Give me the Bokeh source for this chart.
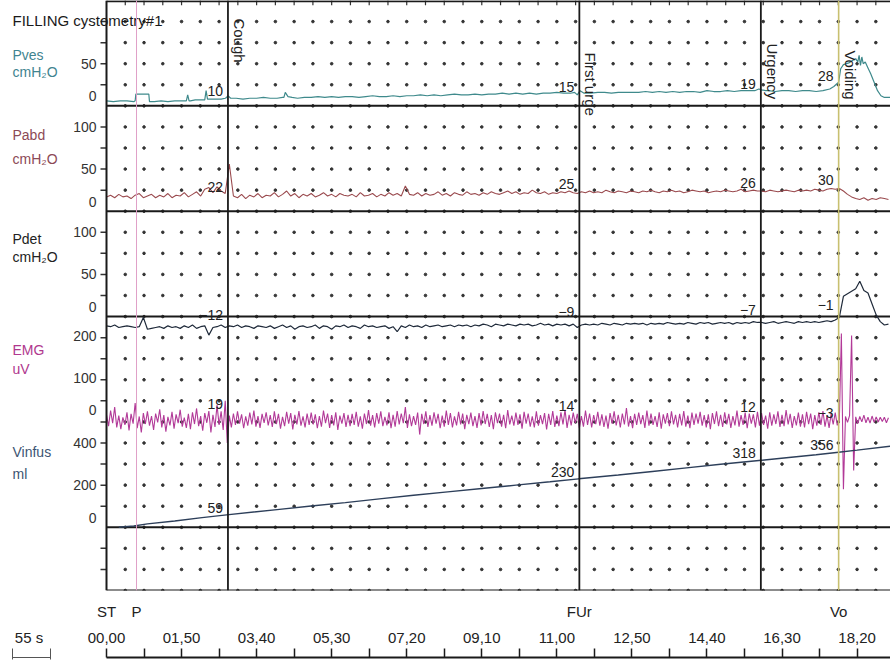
import numpy as np
from bokeh.plotting import figure
from bokeh.models import Range1d, LinearAxis, FixedTicker, Span
from bokeh.embed import file_html
from bokeh.resources import INLINE
from bokeh.core.properties import value

FONT = "Liberation Sans"

# ---------------- data ----------------
# time in seconds, values in channel units
pves_pts = [(0,6),(10,5),(20,6),(30,6),(40,5),(42,6),(43,14),(55,14),(62,14),(63,5),(70,5),(80,6),(90,5),
            (100,6),(110,6),(117,6),(119,13),(121,6),(123,6),(130,7),(138,7),(144,7),(146,18),(148,8),(152,8),
            (160,8),(168,8),(174,9),(176,10),(178,12),(182,9),(190,9),(200,8),(210,9),(220,9),(230,10),(240,9),
            (250,9),(258,10),(260,10),(262,16),(266,11),(272,10),(280,9),(290,10),(300,10),(310,11),(320,10),
            (330,11),(340,10),(350,11),(360,11),(370,10),(380,11),(390,12),(400,11),(410,11),(420,12),(430,11),
            (440,12),(450,12),(460,13),(470,12),(480,13),(490,12),(500,13),(510,14),(520,13),(530,13),(540,14),
            (550,13),(560,14),(570,14),(580,15),(590,14),(600,15),(610,14),(620,15),(630,14),(640,15),(650,15),
            (660,16),(670,15),(680,15),(686,16),(690,13),(694,18),(700,15),(710,15),(720,16),(730,16),(740,15),
            (750,16),(760,16),(770,16),(780,16),(790,17),(800,16),(810,17),(820,16),(830,17),(840,16),(850,17),
            (860,17),(870,16),(880,18),(890,17),(900,17),(910,18),(920,17),(930,18),(940,18),(950,18),(956,20),
            (960,19),(966,18),(970,18),(980,17),(990,18),(1000,18),(1010,17),(1020,18),(1030,18),(1040,17),
            (1050,18),(1060,20),(1066,23),(1070,26),(1073,28),(1076,44),(1080,49),(1088,51),(1094,54),(1098,56),
            (1101,52),(1103,60),(1105,48),(1107,58),(1109,50),(1112,52),(1116,45),(1120,38),(1125,28),(1130,18),
            (1135,12),(1140,10),(1149,10)]

pabd_step = 6
pabd_vals = [17,19,16,20,17,18,15,19,21,16, 18,20,16,19,17,21,16,19,18,22,
             17,20,23,18,26,28,22,29,24,21, 56,18,16,20,15,19,17,21,16,19,
             18,22,17,20,24,18,21,16,20,18, 21,17,19,22,18,20,17,21,19,18,
             20,17,22,18,19,21,17,20,18,22, 19,21,18,30,20,19,22,18,21,19,
             20,23,19,21,18,22,20,19,23,20, 21,19,22,20,23,21,20,22,24,21,
             23,20,22,21,25,22,21,23,20,22, 21,23,22,24,22,21,23,22,24,22,
             23,22,25,23,22,24,23,22,24,23, 22,24,23,25,23,22,24,23,25,23,
             24,22,23,25,24,23,24,22,23,24, 23,25,24,23,24,26,23,24,25,24,
             24,23,25,24,23,24,25,24,23,25, 24,25,24,26,25,24,26,27,26,27,
             24,20,17,15,14,16,13,15,14,16, 15,14]

pdet_step = 6
pdet_vals = [-11,-12,-10,-13,-12,-11,-12,-13,-12,-1, -15,-14,-13,-12,-14,-11,-13,-12,-14,-11,
             -13,-10,-14,-12,-11,-22,-13,-12,-10,-13, -11,-12,-10,-13,-11,-12,-14,-11,-12,-13,
             -11,-14,-12,-10,-13,-11,-15,-12,-11,-13, -12,-10,-14,-11,-12,-15,-11,-12,-10,-13,
             -11,-12,-14,-10,-12,-11,-13,-12,-11,-14, -12,-18,-11,-13,-10,-12,-11,-13,-10,-12,
             -11,-10,-12,-11,-10,-12,-10,-11,-10,-12, -10,-11,-9,-10,-12,-9,-10,-11,-9,-10,
             -11,-9,-10,-9,-11,-10,-8,-10,-9,-11, -9,-10,-9,-11,-9,-13,-10,-9,-10,-9,
             -10,-8,-9,-10,-8,-9,-10,-8,-9,-8, -9,-8,-10,-8,-9,-8,-9,-7,-8,-9,
             -8,-9,-7,-8,-9,-7,-8,-7,-9,-8, -7,-8,-7,-9,-7,-8,-7,-8,-6,-7,
             -7,-8,-7,-6,-8,-7,-6,-7,-8,-6, -7,-6,-7,-6,-7,-6,-5,-6,-4,-1,
             24,27,30,33,42,31,28,15,2,-6, -10,-9]

emg_step = 3
emg_vals = [12,-15,22,-8,30,-18,10,-22,6,-12,18,-25,14,-9,40,-20,8,-30,16,-10,
            20,-14,9,-24,15,-6,25,-18,11,-28,7,-13,19,-21,13,-8,24,-16,5,-19,
            14,-22,18,-10,27,-15,9,-26,16,-7,21,-30,12,-17,35,-12,20,-24,45,-55,
            10,-18,15,-12,20,-9,13,-20,8,-14,17,-11,22,-16,9,-19,14,-7,18,-13,
            11,-17,20,-10,14,-21,7,-15,19,-9,16,-23,12,-11,21,-14,8,-18,15,-12,
            17,-11,13,-20,9,-16,22,-8,15,-19,11,-13,18,-24,10,-9,16,-17,12,-15,
            14,-12,19,-16,8,-21,15,-10,23,-14,11,-18,16,-9,20,-15,7,-13,18,-20,
            12,-16,21,-11,15,-8,30,-19,13,-15,9,-12,17,-35,14,-10,20,-17,11,-14,
            18,-9,14,-20,10,-16,22,-12,16,-18,8,-13,19,-11,15,-22,12,-10,17,-15,
            9,-19,16,-13,21,-10,14,-17,11,-22,18,-8,15,-16,12,-20,23,-11,10,-14,
            17,-12,13,-21,19,-9,15,-16,8,-18,20,-14,11,-10,16,-23,14,-12,21,-17,
            10,-15,18,-11,24,-19,12,-13,17,-8,14,-20,9,-16,22,-12,15,-18,11,-10,
            19,-14,13,-17,10,-21,16,-9,20,-13,12,-18,15,-11,28,-16,9,-20,14,-12,
            17,-10,11,-19,22,-14,15,-12,9,-17,18,-21,13,-9,16,-15,20,-11,12,-18,
            14,-13,21,-16,10,-20,17,-12,15,-9,19,-14,11,-18,13,-22,16,-10,20,-15,
            12,-17,18,-11,14,-19,9,-13,22,-16,11,-12,17,-20,15,-9,13,-18,19,-14,
            16,-12,10,-21,18,-14,13,-10,20,-17,12,-15,23,-11,14,-19,9,-13,17,-16,
            13,-18,19,-10,15,-22,11,-14,18,-12,21,-16,10,-19,14,-11,17,-13,-3,205,
            -165,8,-6,10,200,-120,7,-9,8,-5,11,-7,6,-8,9,-6,7,-5,6,-4,
            6,-7,5]

vinfus_pts = [(18,0),(40,6),(60,16),(100,30),(140,46),(176,59),(250,84),(300,101),(350,117),(400,135),
              (450,152),(500,168),(550,184),(600,200),(650,216),(692,230),(750,248),(800,265),(850,282),
              (900,299),(960,318),(1000,331),(1040,344),(1073,356),(1100,366),(1149,385)]

event_times = [178, 693, 959, 1073]
event_names = ["Cough", "First urge", "Urgency", "Voiding"]
pves_cursor = [10, 15, 19, 28]
pabd_cursor = [22, 25, 26, 30]
pdet_cursor = [-12, -9, -7, -1]
emg_cursor = [19, 14, 12, -3]
vinfus_cursor = [59, 230, 318, 356]

mark_times = [0, 44, 693, 1073]
mark_names = ["ST", "P", "FUr", "Vo"]
time_ticks = [0, 110, 220, 330, 440, 550, 660, 770, 880, 990, 1100]
time_labels = ["00,00", "01,50", "03,40", "05,30", "07,20", "09,10", "11,00", "12,50", "14,40", "16,30", "18,20"]
scale_seconds = 55

# channel: key, name, unit, axis tick values, zero row, value per grid row, colours
channels = [
    dict(key="pves", name="Pves", unit="cmH₂O", ticks=[50, 0], zero=23, per_row=25, col="#3f8a8c", tcol="#3f8490"),
    dict(key="pabd", name="Pabd", unit="cmH₂O", ticks=[100, 50, 0], zero=18, per_row=25, col="#9a4a4e", tcol="#8c4a56"),
    dict(key="pdet", name="Pdet", unit="cmH₂O", ticks=[100, 50, 0], zero=13, per_row=25, col="#1f2a3a", tcol="#222222"),
    dict(key="emg", name="EMG", unit="uV", ticks=[200, 100, 0], zero=8.1, per_row=50, col="#b23a98", tcol="#b0388e"),
    dict(key="vinfus", name="Vinfus", unit="ml", ticks=[400, 200, 0], zero=3, per_row=100, col="#2d3f5a", tcol="#3d5573"),
]

# ---------------- layout constants ----------------
ROWS = 28
T_END = 1149
W, H = 890, 664
LEFT_PX = 106
PX = (W - LEFT_PX) / T_END          # pixels per second
T_START = -LEFT_PX / PX             # left margin expressed in seconds
name_rows = [25.39, 21.64, 16.66, 11.41, 6.57]
unit_rows = [24.63, 20.50, 15.85, 10.49, 5.55]
event_label_rows = [27.15, 25.53, 25.96, 25.63]
LEFT_TEXT_T = (12 - LEFT_PX) / PX
TICKLAB_T = (96 - LEFT_PX) / PX
DASH_T = (100 - LEFT_PX) / PX

p = figure(width=W, height=H, x_range=Range1d(T_START, T_END), y_range=Range1d(0, ROWS),
           x_axis_location=None, y_axis_location=None, toolbar_location=None,
           output_backend="svg", min_border_left=0, min_border_right=0,
           min_border_top=0, min_border_bottom=74, outline_line_color=None,
           background_fill_color="white", border_fill_color="white")
p.grid.visible = False

for ch in channels:
    z, u = ch["zero"], ch["per_row"]
    p.extra_y_ranges[ch["key"]] = Range1d(-z * u, (ROWS - z) * u)

# dotted grid
cols = np.arange(1, 42) * 27.5
rows = np.arange(0, 28)
gx, gy = np.meshgrid(cols, rows)
p.scatter(gx.ravel(), gy.ravel(), size=2.6, color="#333333", marker="circle")
p.segment(x0=cols, y0=ROWS, x1=cols, y1=ROWS - 0.22, line_color="#333333", line_width=1.2)

# heavy separators and left border
sep_rows = [0, 3, 13, 18, 23, 27.97]
p.segment(x0=[0] * len(sep_rows), y0=sep_rows, x1=[T_END] * len(sep_rows), y1=sep_rows,
          line_color="#1a1a1a", line_width=2)
p.add_layout(Span(location=0, dimension="height", line_color="#1a1a1a", line_width=2))

# event lines
p.add_layout(Span(location=mark_times[1], dimension="height", line_color="#e0a0c8", line_width=1))
for t in event_times[:3]:
    p.add_layout(Span(location=t, dimension="height", line_color="#1a1a1a", line_width=1.8))
p.add_layout(Span(location=event_times[3], dimension="height", line_color="#c8c070", line_width=1.6))

# traces
pt, pv = zip(*pves_pts)
p.line(list(pt), list(pv), y_range_name="pves", line_color=channels[0]["col"], line_width=1.2)
p.line(list(np.arange(len(pabd_vals)) * pabd_step), pabd_vals, y_range_name="pabd",
       line_color=channels[1]["col"], line_width=1.1)
p.line(list(np.arange(len(pdet_vals)) * pdet_step), pdet_vals, y_range_name="pdet",
       line_color=channels[2]["col"], line_width=1.2)
p.line(list(np.arange(len(emg_vals)) * emg_step), emg_vals, y_range_name="emg",
       line_color=channels[3]["col"], line_width=1.1)
vt, vv = zip(*vinfus_pts)
p.line(list(vt), list(vv), y_range_name="vinfus", line_color=channels[4]["col"], line_width=1.4)

# cursor values at events
cursors = [(pves_cursor, "pves", -6), (pabd_cursor, "pabd", -6), (pdet_cursor, "pdet", -12),
           (emg_cursor, "emg", -8), (vinfus_cursor, "vinfus", -7)]
for vals, key, yo in cursors:
    p.text(x=event_times, y=vals, text=[str(v).replace("-", "−") for v in vals], y_range_name=key,
           text_align="right", text_baseline="alphabetic", x_offset=-5, y_offset=yo,
           text_font=value(FONT), text_font_size=value("14px"), text_color="#222222")

# rotated event names
p.text(x=event_times, y=event_label_rows, text=event_names, angle=-np.pi / 2,
       text_align="left", text_baseline="bottom", x_offset=3,
       text_font=value(FONT), text_font_size=value("15px"), text_color="#222222")

# left scale: tick labels and dashes per channel
tick_rows, tick_text = [], []
for ch in channels:
    for v in ch["ticks"]:
        tick_rows.append(ch["zero"] + v / ch["per_row"] + (0.45 if v == 0 else 0.0))
        tick_text.append(str(v))
p.text(x=[TICKLAB_T] * len(tick_rows), y=tick_rows, text=tick_text, text_align="right",
       text_baseline="middle", text_font=value(FONT), text_font_size=value("14px"), text_color="#333333")
dash_rows = [r for r in range(1, 28) if r not in (3, 13, 18, 23)]
p.segment(x0=[DASH_T] * len(dash_rows), y0=dash_rows, x1=[0] * len(dash_rows), y1=dash_rows,
          line_color="#333333", line_width=1.5)

# title and channel names
p.text(x=[LEFT_TEXT_T], y=[27.05], text=["FILLING cystometry#1"], text_baseline="middle",
       text_font=value(FONT), text_font_size=value("15px"), text_color="#1a1a1a")
p.text(x=[LEFT_TEXT_T] * len(channels), y=name_rows, text=[c["name"] for c in channels],
       text_baseline="middle", text_font=value(FONT), text_font_size=value("14px"),
       text_color=[c["tcol"] for c in channels])
p.text(x=[LEFT_TEXT_T] * len(channels), y=unit_rows, text=[c["unit"] for c in channels],
       text_baseline="middle", text_font=value(FONT), text_font_size=value("14px"),
       text_color=[c["tcol"] for c in channels])

# bottom: event markers, time labels, tick line, scale bar
def bare_axis(ticks, labels, standoff, size):
    ax = LinearAxis(ticker=FixedTicker(ticks=ticks, minor_ticks=[]),
                    major_label_overrides={t: l for t, l in zip(ticks, labels)})
    ax.axis_line_color = None
    ax.major_tick_line_color = None
    ax.minor_tick_line_color = None
    ax.major_tick_out = 0
    ax.major_tick_in = 0
    ax.major_label_standoff = standoff
    ax.major_label_text_font = FONT
    ax.major_label_text_font_size = size
    ax.major_label_text_color = "#222222"
    return ax

ax_ev = bare_axis(mark_times, mark_names, 12, "15px")
p.add_layout(ax_ev, "below")
scale_label_t = (28.5 - LEFT_PX) / PX
ax_tm = bare_axis(time_ticks + [scale_label_t], time_labels + [f"{scale_seconds} s"], 6, "15px")
ax_tm.axis_label = " "
ax_tm.axis_label_text_font_size = "6px"
ax_tm.axis_label_standoff = 0
p.add_layout(ax_tm, "below")

tick_pos = list(range(0, T_END + 1, scale_seconds))
ax_tk = LinearAxis(ticker=FixedTicker(ticks=tick_pos, minor_ticks=[]), bounds=(0, T_END),
                   major_label_overrides={t: "" for t in tick_pos})
ax_tk.axis_line_color = "#1a1a1a"
ax_tk.axis_line_width = 2
ax_tk.major_tick_in = 9
ax_tk.major_tick_out = 0
ax_tk.major_tick_line_width = 1.5
ax_tk.major_tick_line_color = "#1a1a1a"
ax_tk.major_label_standoff = 0
ax_tk.major_label_text_font_size = "2px"
p.add_layout(ax_tk, "below")

bar0 = LEFT_TEXT_T
bar_ticks = [bar0, bar0 + scale_seconds]
ax_bar = LinearAxis(ticker=FixedTicker(ticks=bar_ticks, minor_ticks=[]), bounds=(bar_ticks[0], bar_ticks[1]),
                    major_label_overrides={t: "" for t in bar_ticks})
ax_bar.axis_line_color = "#555555"
ax_bar.axis_line_width = 1
ax_bar.major_tick_in = 9
ax_bar.major_tick_out = 2
ax_bar.major_tick_line_width = 1
ax_bar.major_tick_line_color = "#555555"
ax_bar.major_label_standoff = 0
ax_bar.major_label_text_font_size = "1px"
p.add_layout(ax_bar, "below")

open("out.html", "w").write(file_html(p, INLINE))
